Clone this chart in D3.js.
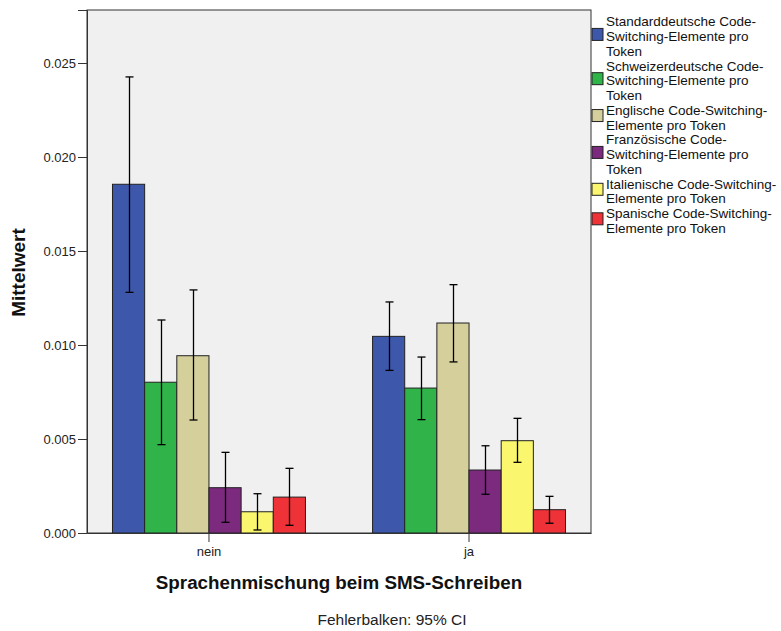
<!DOCTYPE html>
<html>
<head>
<meta charset="utf-8">
<script src="https://cdn.jsdelivr.net/npm/d3@7"></script>
<style>
  body { margin: 0; background: #fff; }
  svg { font-family: "Liberation Sans", Arial, sans-serif; }
</style>
</head>
<body>
<div id="chart"></div>
<script>
// categories and series
const groups = ["nein", "ja"];
const seriesNames = [
  ["Standarddeutsche Code-", "Switching-Elemente pro", "Token"],
  ["Schweizerdeutsche Code-", "Switching-Elemente pro", "Token"],
  ["Englische Code-Switching-", "Elemente pro Token"],
  ["Französische Code-", "Switching-Elemente pro", "Token"],
  ["Italienische Code-Switching-", "Elemente pro Token"],
  ["Spanische Code-Switching-", "Elemente pro Token"]
];
const colors = ["#3d58aa", "#30b44a", "#d4cf9b", "#7c2a7e", "#faf66e", "#ee3237"];

// means per group (nein, ja) for each series
const means = [
  [0.01855, 0.01046],
  [0.00802, 0.00771],
  [0.00943, 0.01117],
  [0.00241, 0.00335],
  [0.00113, 0.00491],
  [0.00191, 0.00124]
];
// 95% CI lower / upper
const ciLow = [
  [0.0128, 0.00865],
  [0.0047, 0.00603],
  [0.00601, 0.0091],
  [0.00057, 0.00206],
  [0.00016, 0.00376],
  [0.00041, 0.00052]
];
const ciHigh = [
  [0.02426, 0.01229],
  [0.01133, 0.00936],
  [0.01293, 0.01321],
  [0.00429, 0.00464],
  [0.00209, 0.0061],
  [0.00344, 0.00195]
];
const yTicks = [0, 0.005, 0.01, 0.015, 0.02, 0.025];

const W = 781, H = 631;
const plot = { left: 87, right: 591, top: 10, bottom: 533 };

const svg = d3.select("#chart").append("svg")
  .attr("width", W)
  .attr("height", H);

// scales
const y = d3.scaleLinear().domain([0, 0.02782]).range([plot.bottom, plot.top]);
const x0 = d3.scaleBand().domain(groups).range([plot.left, plot.right])
  .paddingInner(0.258).paddingOuter(0.098);
const x1 = d3.scaleBand().domain(d3.range(seriesNames.length)).range([0, x0.bandwidth()]);

// plot background
svg.append("rect")
  .attr("x", plot.left).attr("y", plot.top)
  .attr("width", plot.right - plot.left).attr("height", plot.bottom - plot.top)
  .attr("fill", "#f0f0f0")
  .attr("stroke", "#333").attr("stroke-width", 1);

// bars
const data = [];
groups.forEach((g, gi) => {
  seriesNames.forEach((s, si) => {
    data.push({ g, si, mean: means[si][gi], lo: ciLow[si][gi], hi: ciHigh[si][gi] });
  });
});

const barG = svg.append("g");
barG.selectAll("rect").data(data).join("rect")
  .attr("x", d => x0(d.g) + x1(d.si))
  .attr("y", d => y(d.mean))
  .attr("width", x1.bandwidth())
  .attr("height", d => y(0) - y(d.mean))
  .attr("fill", d => colors[d.si])
  .attr("stroke", "#222")
  .attr("stroke-width", 1);

// error bars
const errG = svg.append("g").attr("stroke", "#000").attr("stroke-width", 1.3);
data.forEach(d => {
  const cx = Math.round(x0(d.g) + x1(d.si) + x1.bandwidth() / 2) + 0.5;
  errG.append("line").attr("x1", cx).attr("x2", cx).attr("y1", y(d.hi)).attr("y2", y(d.lo));
  errG.append("line").attr("x1", cx - 4).attr("x2", cx + 4).attr("y1", y(d.hi)).attr("y2", y(d.hi));
  errG.append("line").attr("x1", cx - 4).attr("x2", cx + 4).attr("y1", y(d.lo)).attr("y2", y(d.lo));
});

// axes
const yAxis = svg.append("g")
  .attr("transform", `translate(${plot.left},0)`)
  .call(d3.axisLeft(y).tickValues(yTicks).tickFormat(d3.format(".3f")).tickSize(9).tickPadding(2));
yAxis.select(".domain").attr("stroke", "#333");
yAxis.selectAll(".tick line").attr("stroke", "#333");
yAxis.selectAll("text").attr("font-size", 13).attr("fill", "#222")
  .attr("font-family", "Liberation Sans, Arial, sans-serif");

const xAxis = svg.append("g")
  .attr("transform", `translate(0,${plot.bottom})`)
  .call(d3.axisBottom(x0).tickSize(9).tickSizeOuter(0).tickPadding(5));
xAxis.select(".domain").attr("stroke", "#333");
xAxis.selectAll(".tick line").attr("stroke", "#333");
xAxis.selectAll("text").attr("font-size", 13).attr("fill", "#222")
  .attr("font-family", "Liberation Sans, Arial, sans-serif");

// axis titles
svg.append("text")
  .attr("transform", `translate(25,272.5) rotate(-90)`)
  .attr("text-anchor", "middle")
  .attr("font-size", 19).attr("font-weight", "bold").attr("fill", "#111")
  .text("Mittelwert");

svg.append("text")
  .attr("x", 339).attr("y", 589)
  .attr("text-anchor", "middle")
  .attr("font-size", 18.8).attr("font-weight", "bold").attr("fill", "#111")
  .text("Sprachenmischung beim SMS-Schreiben");

svg.append("text")
  .attr("x", 392).attr("y", 624.5)
  .attr("text-anchor", "middle")
  .attr("font-size", 15.5).attr("fill", "#222")
  .text("Fehlerbalken: 95% CI");

// legend
const lineH = 14.75;
const legend = svg.append("g");
let yPos = 14.3;
seriesNames.forEach((lines, i) => {
  const n = lines.length;
  const midY = yPos + (n * lineH) / 2 - 2;
  legend.append("rect")
    .attr("x", 592).attr("y", midY - 6)
    .attr("width", 11).attr("height", 12)
    .attr("fill", colors[i]).attr("stroke", "#222");
  const t = legend.append("text")
    .attr("font-size", 13.5).attr("fill", "#111");
  lines.forEach((l, k) => {
    t.append("tspan").attr("x", 606).attr("y", yPos + k * lineH + 12).text(l);
  });
  yPos += n * lineH;
});
</script>
</body>
</html>
